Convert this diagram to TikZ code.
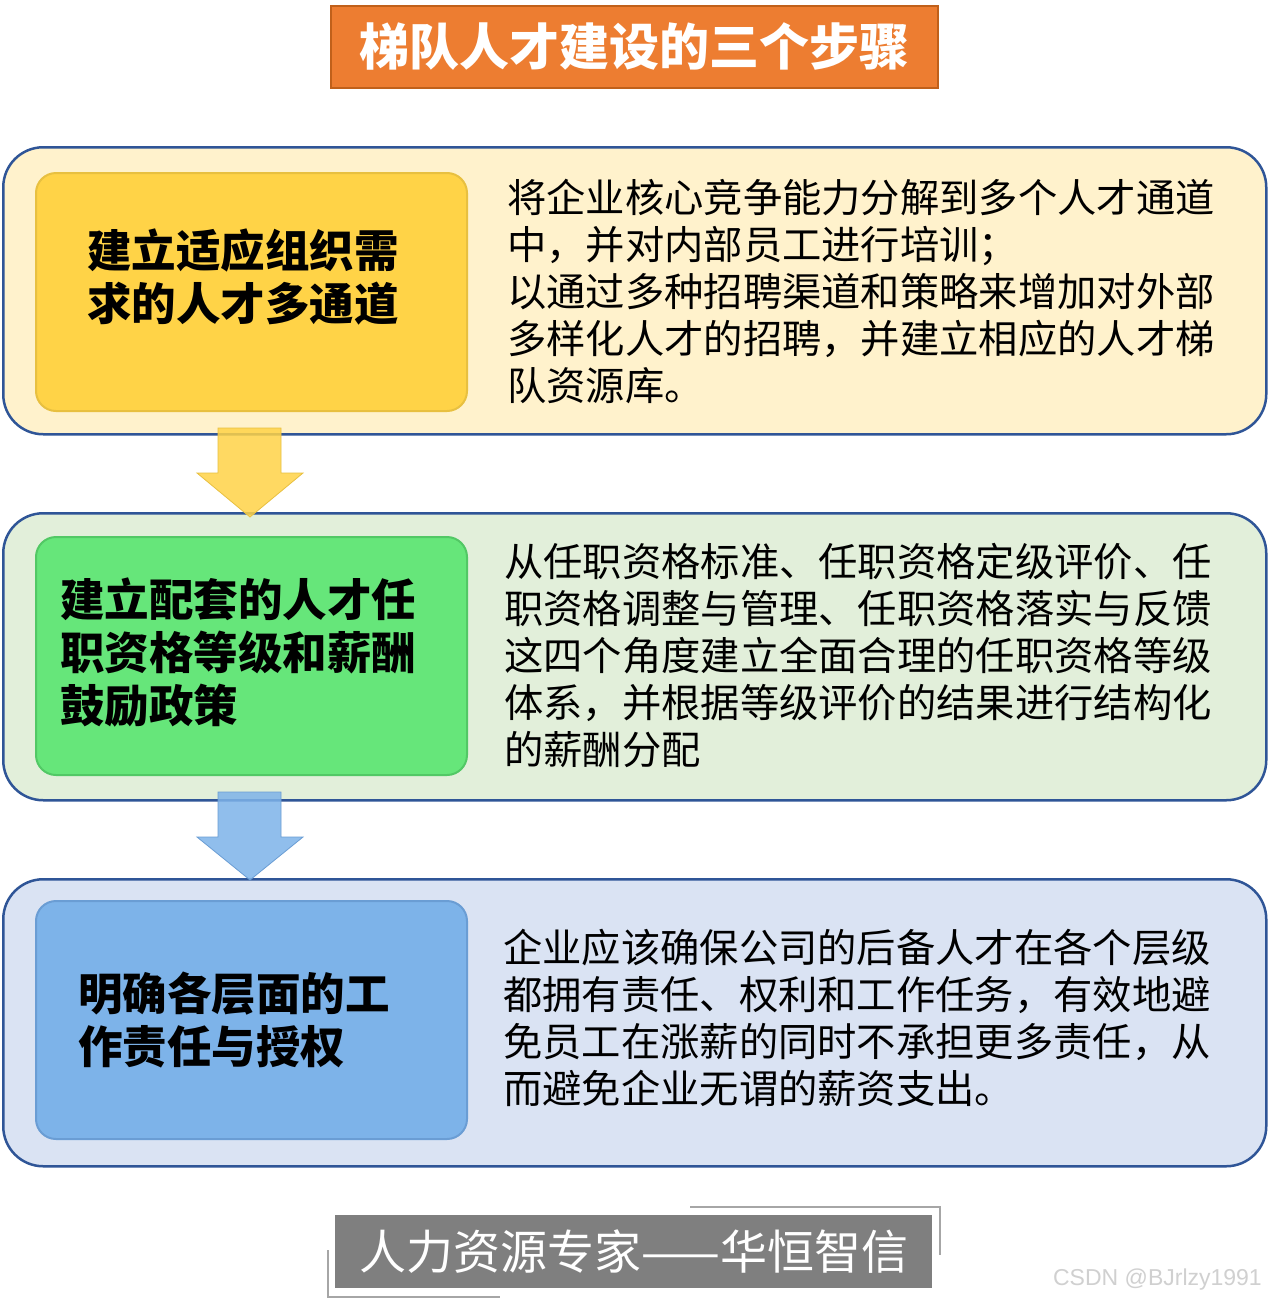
\documentclass[tikz,border=0pt]{standalone}
\usepackage{fontspec}
\setmainfont{Noto Sans CJK SC}
\newfontfamily\wmfont{Liberation Sans}
\definecolor{panelblue}{HTML}{2F5597}
\definecolor{pone}{HTML}{FFF2CC}
\definecolor{ptwo}{HTML}{E2EFDA}
\definecolor{pthree}{HTML}{DAE3F3}
\definecolor{yel}{HTML}{FFD347}
\definecolor{yeledge}{HTML}{E8C040}
\definecolor{grn}{HTML}{66E67A}
\definecolor{grnedge}{HTML}{52C865}
\definecolor{blu}{HTML}{7DB3E9}
\definecolor{bluedge}{HTML}{6A9DD4}
\definecolor{torange}{HTML}{ED7D31}
\definecolor{tborder}{HTML}{C0601A}
\definecolor{footgray}{HTML}{7F7F7F}
\definecolor{wmgray}{HTML}{D0D0D0}
\begin{document}
\begin{tikzpicture}[x=1pt,y=-1pt,
  panel/.style={draw=panelblue, line width=2.5pt, rounded corners=40pt, anchor=north west, inner sep=0pt, minimum width=1263pt, minimum height=287pt},
  innerbox/.style={rounded corners=20pt, line width=2pt, anchor=north west, inner sep=0pt, minimum width=431pt, minimum height=238pt},
  head/.style={font=\fontsize{44.5}{53}\selectfont\bfseries, align=left, anchor=west, inner sep=0pt},
  body/.style={font=\fontsize{39.3}{47}\selectfont, align=left, anchor=west, inner sep=0pt},
  downarrow/.style={fill opacity=0.85, line width=0.8pt}]
\useasboundingbox (0,0) rectangle (1267,1301);
\fill[white] (0,0) rectangle (1267,1301);

% title
\node[fill=torange, draw=tborder, line width=2pt, anchor=north west, minimum width=607pt, minimum height=82pt, inner sep=0pt] (title) at (330,5) {};
\node[font=\fontsize{50}{50}\selectfont\bfseries, text=white, inner sep=0pt] (titletext) at (title.center) {梯队人才建设的三个步骤};

% panel 1
\node[panel, fill=pone] (p1) at (2,146) {};
\node[innerbox, fill=yel, draw=yeledge] (b1) at (35,172) {};
\node[head] (h1) at (87,277) {建立适应组织需\\求的人才多通道};
\node[body] (t1) at (507,291) {将企业核心竞争能力分解到多个人才通道\\中，并对内部员工进行培训；\\以通过多种招聘渠道和策略来增加对外部\\多样化人才的招聘，并建立相应的人才梯\\队资源库。};

% panel 2
\node[panel, fill=ptwo] (p2) at (2,512) {};
\node[innerbox, fill=grn, draw=grnedge] (b2) at (35,536) {};
\node[head] (h2) at (60,653) {建立配套的人才任\\职资格等级和薪酬\\鼓励政策};
\node[body] (t2) at (504,655) {从任职资格标准、任职资格定级评价、任\\职资格调整与管理、任职资格落实与反馈\\这四个角度建立全面合理的任职资格等级\\体系，并根据等级评价的结果进行结构化\\的薪酬分配};

% panel 3
\node[panel, fill=pthree] (p3) at (2,878) {};
\node[innerbox, fill=blu, draw=bluedge] (b3) at (35,900) {};
\node[head] (h3) at (78,1020) {明确各层面的工\\作责任与授权};
\node[body] (t3) at (503,1018) {企业应该确保公司的后备人才在各个层级\\都拥有责任、权利和工作任务，有效地避\\免员工在涨薪的同时不承担更多责任，从\\而避免企业无谓的薪资支出。};

% arrows
\draw[downarrow, fill=yel, draw=yeledge] (218,428) -- (281,428) -- (281,473) -- (303,473) -- (250,517) -- (197,473) -- (218,473) -- cycle;
\draw[downarrow, fill=blu, draw=bluedge] (218,792) -- (281,792) -- (281,837) -- (303,837) -- (250,880) -- (197,837) -- (218,837) -- cycle;

% footer
\node[fill=footgray, anchor=north west, minimum width=597pt, minimum height=73pt, inner sep=0pt] (foot) at (335,1215) {};
\node[font=\fontsize{47}{47}\selectfont, text=white, inner sep=0pt] (foottext) at (foot.center) {人力资源专家——华恒智信};
\coordinate (ca) at (690,1207);
\coordinate (cb) at (940,1207);
\coordinate (cc) at (940,1255);
\coordinate (cd) at (328,1250);
\coordinate (ce) at (328,1297);
\coordinate (cf) at (500,1297);
\draw[gray!70, line width=1.5pt] (ca) -- (cb) -- (cc);
\draw[gray!70, line width=1.5pt] (cd) -- (ce) -- (cf);

% watermark
\node[font=\wmfont\fontsize{23}{23}\selectfont, text=wmgray, anchor=east, inner sep=0pt] (wm) at (1262,1280) {CSDN @BJrlzy1991};
\end{tikzpicture}
\end{document}
